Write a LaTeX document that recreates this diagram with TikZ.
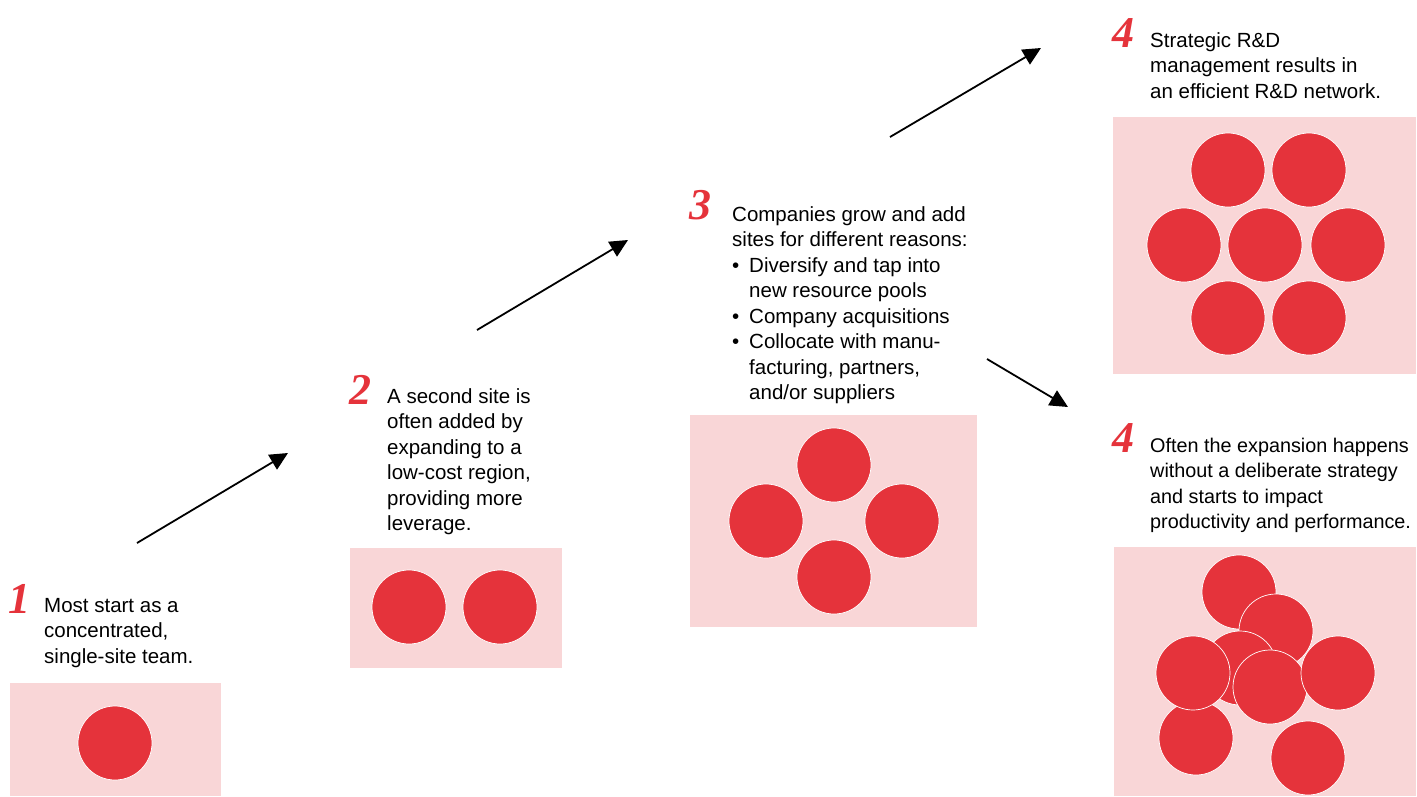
\documentclass[tikz,border=0pt]{standalone}
\usepackage{fontspec}
\setmainfont{Liberation Sans}
\newfontfamily\numfont{Liberation Serif}
\usetikzlibrary{arrows.meta}
\definecolor{dotred}{HTML}{E5333B}
\definecolor{boxpink}{HTML}{F9D6D7}
\begin{document}
\begin{tikzpicture}[x=1pt,y=-1pt,
  panel/.style={fill=boxpink,draw=none},
  dot/.style={circle,fill=dotred,draw=white,line width=0.7pt,minimum size=74pt,inner sep=0pt},
  num/.style={anchor=base west,inner sep=0pt,text=dotred,font=\fontsize{44}{44}\numfont\bfseries\itshape},
  txt/.style={anchor=base west,inner sep=0pt,font=\fontsize{20.5}{25.5}\selectfont},
  arr/.style={line width=1.8pt,-{Triangle[length=18pt,width=17pt]}}]
\useasboundingbox (0,0) rectangle (1417,796);
\fill[white] (0,0) rectangle (1417,796);
% panels
\path[panel] (10,683) rectangle (221,796);
\path[panel] (350,548) rectangle (562,668);
\path[panel] (690,415) rectangle (977,627);
\path[panel] (1113,117) rectangle (1416,374);
\path[panel] (1114,547) rectangle (1416,796);
% step 1
\node[dot] (d1) at (115,743) {};
\node[num] (n1) at (8,613) {1};
\node[txt] (t1) at (44,612) {\begin{tabular}[t]{@{}l@{}}Most start as a\\concentrated,\\single-site team.\end{tabular}};
% step 2
\node[dot] (d2a) at (409,607) {};
\node[dot] (d2b) at (500,607) {};
\node[num] (n2) at (349,404) {2};
\node[txt] (t2) at (387,403) {\begin{tabular}[t]{@{}l@{}}A second site is\\often added by\\expanding to a\\low-cost region,\\providing more\\leverage.\end{tabular}};
% step 3
\node[dot] (d3a) at (834,465) {};
\node[dot] (d3b) at (766,521) {};
\node[dot] (d3c) at (902,521) {};
\node[dot] (d3d) at (834,577) {};
\node[num] (n3) at (689,219) {3};
\node[txt] (t3) at (732,221) {\begin{tabular}[t]{@{}l@{}}Companies grow and add\\sites for different reasons:\\
\makebox[17pt][l]{•}Diversify and tap into\\\hspace*{17pt}new resource pools\\
\makebox[17pt][l]{•}Company acquisitions\\
\makebox[17pt][l]{•}Collocate with manu-\\\hspace*{17pt}facturing, partners,\\\hspace*{17pt}and/or suppliers\end{tabular}};
% step 4a
\node[dot] (e1) at (1228,170) {};
\node[dot] (e2) at (1309,170) {};
\node[dot] (e3) at (1184,245) {};
\node[dot] (e4) at (1265,245) {};
\node[dot] (e5) at (1348,245) {};
\node[dot] (e6) at (1228,318) {};
\node[dot] (e7) at (1309,318) {};
\node[num] (n4a) at (1112,47) {4};
\node[txt] (t4a) at (1150,47) {\begin{tabular}[t]{@{}l@{}}Strategic R\&D\\management results in\\an efficient R\&D network.\end{tabular}};
% step 4b
\node[dot] (f1) at (1239,592) {};
\node[dot] (f7) at (1196,738) {};
\node[dot] (f8) at (1308,758) {};
\node[dot] (f2) at (1276,631) {};
\node[dot] (f3) at (1240,668) {};
\node[dot] (f4) at (1193,673) {};
\node[dot] (f5) at (1270,687) {};
\node[dot] (f6) at (1338,673) {};
\node[num] (n4b) at (1112,452) {4};
\node[txt,font=\fontsize{19.8}{25.5}\selectfont] (t4b) at (1150,452) {\begin{tabular}[t]{@{}l@{}}Often the expansion happens\\without a deliberate strategy\\and starts to impact\\productivity and performance.\end{tabular}};
% arrows
\coordinate (a1s) at (137,543); \coordinate (a1e) at (288,453);
\coordinate (a2s) at (477,330); \coordinate (a2e) at (628,240);
\coordinate (a3s) at (890,137); \coordinate (a3e) at (1041,48);
\coordinate (a4s) at (987,359); \coordinate (a4e) at (1068,407);
\draw[arr] (a1s) -- (a1e);
\draw[arr] (a2s) -- (a2e);
\draw[arr] (a3s) -- (a3e);
\draw[arr] (a4s) -- (a4e);
\end{tikzpicture}
\end{document}
